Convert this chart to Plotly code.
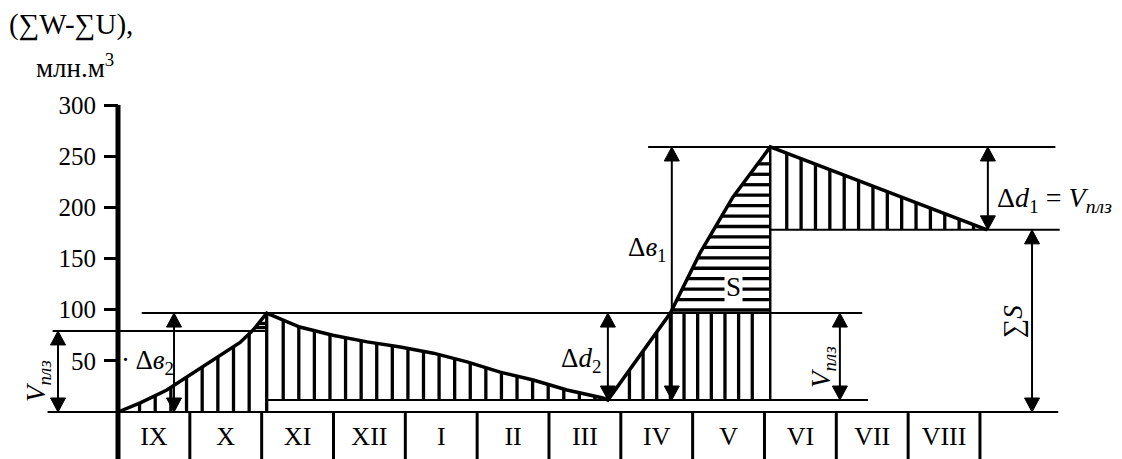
import numpy as np
import plotly.graph_objects as go

# ---------------- data ----------------
months = ["IX", "X", "XI", "XII", "I", "II", "III", "IV", "V", "VI", "VII", "VIII"]
y_ticks = [50, 100, 150, 200, 250, 300]

# integral curve of (ΣW-ΣU): time in months from 1 September, volume in mln m3
curve_t = [0.00, 0.31, 0.68, 1.00, 1.38, 1.70, 1.88, 2.07,
           2.53, 2.99, 3.47, 3.93, 4.39, 4.86, 5.32, 5.78, 6.25, 6.75, 6.82,
           7.69, 8.10, 8.56, 9.08, 12.10]
curve_v = [0.0, 9.0, 21.5, 36.0, 53.0, 68.0, 80.0, 96.7,
           83.0, 75.0, 68.5, 63.5, 57.5, 49.0, 39.0, 31.3, 21.5, 13.7, 11.7,
           96.7, 155.0, 210.0, 259.0, 178.0]

# characteristic levels (mln m3)
lvl_peak1 = 96.7
lvl_vplz = 79.2
lvl_base2 = 11.7
lvl_peak2 = 259.0
lvl_sum_s = 178.0
t_peak1 = 2.07
t_min = 6.82
t_peak2 = 9.08
t_end = 12.10

# horizontal guide lines: level, start, end (months)
guide_v = [lvl_peak1, lvl_vplz, 0.0, lvl_base2, lvl_peak2, lvl_sum_s]
guide_t0 = [0.33, -0.91, -0.98, 2.07, 7.38, 9.08]
guide_t1 = [10.36, 2.07, 13.09, 10.44, 13.05, 13.11]

# double-headed dimension arrows: position, low, high
arrow_t = [-0.835, 0.78, 6.82, 7.71, 10.05, 12.11, 12.725]
arrow_lo = [0.0, 0.0, lvl_base2, lvl_base2, lvl_base2, lvl_sum_s, 0.0]
arrow_hi = [lvl_vplz, lvl_peak1, lvl_peak1, lvl_peak2, lvl_peak1, lvl_peak2, lvl_sum_s]

# ---------------- geometry of the page ----------------
W, H = 1122, 459
T0_PX, PX_PER_MONTH = 118, 71.83
V0_PX, PX_PER_UNIT = 412, 1.0233
t_range = [-T0_PX / PX_PER_MONTH, (W - T0_PX) / PX_PER_MONTH]
v_range = [-(H - V0_PX) / PX_PER_UNIT, V0_PX / PX_PER_UNIT]
FONT = "Liberation Serif"

ct = np.array(curve_t)
cv = np.array(curve_v)
i1 = curve_t.index(t_peak1)
i2 = curve_t.index(t_min)
i3 = curve_t.index(t_peak2)
rise1 = (ct[:i1 + 1], cv[:i1 + 1])
fall1 = (ct[i1:i2 + 1], cv[i1:i2 + 1])
rise2 = (ct[i2:i3 + 1], cv[i2:i3 + 1])
fall2 = (ct[i3:], cv[i3:])


def segs(pairs):
    xs, ys = [], []
    for (x0, y0), (x1, y1) in pairs:
        xs += [x0, x1, None]
        ys += [y0, y1, None]
    return xs, ys


def line_trace(pairs, width):
    xs, ys = segs(pairs)
    return go.Scatter(x=xs, y=ys, mode="lines", hoverinfo="skip", showlegend=False,
                      line=dict(color="black", width=width))


# hatching (vertical)
hatch = []
for t in np.arange(0.30, 1.90, 0.218):                       # IX-X
    hatch.append(((t, 0.0), (t, np.interp(t, *rise1))))
hatch.append(((t_peak1, 0.0), (t_peak1, lvl_peak1)))
for t in np.arange(2.30, 6.70, 0.217):                       # XI-III
    hatch.append(((t, lvl_base2), (t, np.interp(t, *fall1))))
for t in np.arange(7.12, 9.0, 0.19):                          # IV-V
    hatch.append(((t, lvl_base2), (t, min(lvl_peak1, np.interp(t, *rise2)))))
for t in np.arange(9.31, 11.95, 0.2):                         # VI-VIII
    hatch.append(((t, lvl_sum_s), (t, np.interp(t, *fall2))))
# hatching (horizontal) - S region and small part at first peak
for v in np.arange(99.7, 252.0, 10.2):
    hatch.append(((np.interp(v, rise2[1], rise2[0]), v), (t_peak2, v)))
for v in [82.5, 86.5]:
    hatch.append(((np.interp(v, rise1[1], rise1[0]), v), (t_peak1, v)))

fig = go.Figure()

# hatching
fig.add_trace(line_trace(hatch, 3.3))

# guide lines
fig.add_trace(line_trace([((a, v), (b, v)) for v, a, b in zip(guide_v, guide_t0, guide_t1)], 2))
# vertical boundary of storage zone
fig.add_trace(line_trace([((t_peak2, lvl_base2), (t_peak2, lvl_peak2))], 2.5))

# month cells
fig.add_trace(line_trace([((k, 0.0), (k, v_range[0])) for k in range(1, 13)], 3))
fig.add_trace(go.Scatter(x=[k + 0.5 for k in range(12)], y=[-26] * 12, text=months,
                         mode="text", hoverinfo="skip", showlegend=False,
                         textfont=dict(family=FONT, size=26, color="black")))

# y axis line
fig.add_trace(line_trace([((0, v_range[0]), (0, 300))], 5))

# integral curve
fig.add_trace(go.Scatter(x=curve_t, y=curve_v, mode="lines", hoverinfo="skip", showlegend=False,
                         line=dict(color="black", width=3.5)))

# arrows
fig.add_trace(line_trace([((t, lo), (t, hi)) for t, lo, hi in zip(arrow_t, arrow_lo, arrow_hi)], 2))
hw = 7.5 / PX_PER_MONTH
hl = 14 / PX_PER_UNIT
tx, ty = [], []
for t, lo, hi in zip(arrow_t, arrow_lo, arrow_hi):
    tx += [t - hw, t + hw, t, t - hw, None, t - hw, t + hw, t, t - hw, None]
    ty += [hi - hl, hi - hl, hi, hi - hl, None, lo + hl, lo + hl, lo, lo + hl, None]
fig.add_trace(go.Scatter(x=tx, y=ty, mode="lines", fill="toself", fillcolor="black",
                         line=dict(color="black", width=1), hoverinfo="skip", showlegend=False))

# ---------------- texts ----------------
def px_t(x):
    return (x - T0_PX) / PX_PER_MONTH


def px_v(y):
    return (V0_PX - y) / PX_PER_UNIT


def ann(text, x, y, size=27, xanchor="center", angle=0, bg=None):
    fig.add_annotation(text=text, x=px_t(x), y=px_v(y), xref="x", yref="y", showarrow=False,
                       xanchor=xanchor, yanchor="middle", textangle=angle,
                       font=dict(family=FONT, size=size, color="black"),
                       bgcolor=bg, borderpad=1)


ann("(∑W-∑U),", 7, 24, size=29, xanchor="left")
ann("млн.м<sup>3</sup>", 75, 66, size=27)
ann("<i>V<sub>плз</sub></i>", 38, 381, angle=-90)
ann("·\u2009Δ<i>в</i><sub>2</sub>", 119, 362, xanchor="left")
ann("Δ<i>d</i><sub>2</sub>", 603, 360, xanchor="right")
ann("Δ<i>в</i><sub>1</sub>", 669, 249, xanchor="right")
ann("S", 733, 287, bg="white")
ann("Δ<i>d</i><sub>1</sub> = <i>V<sub>плз</sub></i>", 995, 199, size=28, xanchor="left")
ann("<i>V<sub>плз</sub></i>", 823, 367, angle=-90)
ann("∑<i>S</i>", 1013, 322, angle=-90)

fig.update_layout(
    width=W, height=H, margin=dict(l=0, r=0, t=0, b=0),
    paper_bgcolor="white", plot_bgcolor="white", showlegend=False,
    xaxis=dict(range=t_range, visible=False, fixedrange=True),
    yaxis=dict(range=v_range, anchor="free", position=T0_PX / W, tickvals=y_ticks,
               ticks="outside", ticklen=14, tickwidth=3, tickcolor="black",
               showgrid=False, zeroline=False, showline=False, ticklabelstandoff=3,
               tickfont=dict(family=FONT, size=25, color="black"), fixedrange=True),
)

fig.write_html("out.html", post_script="document.body.style.margin='0px';",
               config={"displayModeBar": False})
